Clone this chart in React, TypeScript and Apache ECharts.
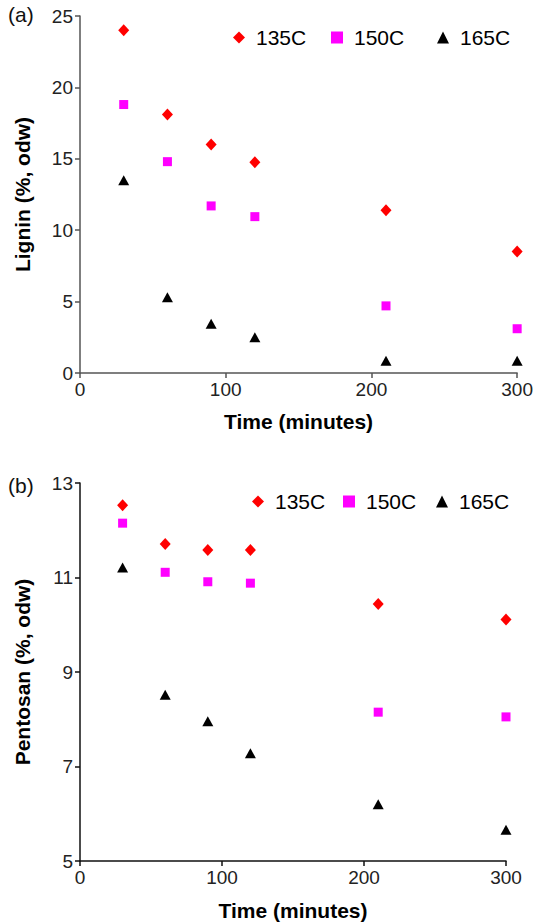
import React, { useEffect, useRef } from "react";
import * as echarts from "echarts";

const times = [30, 60, 90, 120, 210, 300];
const seriesNames = ["135C", "150C", "165C"];
const lignin135 = [24.0, 18.1, 16.0, 14.75, 11.4, 8.5];
const lignin150 = [18.8, 14.8, 11.7, 10.95, 4.7, 3.1];
const lignin165 = [13.5, 5.3, 3.45, 2.5, 0.85, 0.85];
const pentosan135 = [12.53, 11.71, 11.58, 11.58, 10.44, 10.11];
const pentosan150 = [12.15, 11.11, 10.91, 10.88, 8.15, 8.05];
const pentosan165 = [11.21, 8.52, 7.96, 7.28, 6.2, 5.66];
const xTicks = { min: 0, max: 300, interval: 100 };
const ligninTicks = { min: 0, max: 25, interval: 5 };
const pentosanTicks = { min: 5, max: 13, interval: 2 };

const FONT = "Liberation Sans, Arial, sans-serif";
const colors = ["#FF0000", "#FF00FF", "#000000"];
const symbols = ["diamond", "rect", "triangle"];
const symbolSizes: any[] = [[11, 12], 9, [11, 10]];

const pair = (vals: number[]) => times.map((t, i) => [t, vals[i]]);

export default function App() {
  const ref = useRef<HTMLDivElement>(null);
  useEffect(() => {
    if (!ref.current) return;
    const chart = echarts.init(ref.current, null, { renderer: "svg" });
    const axisCommon = (color: string) => ({
      axisLine: { show: true, onZero: false, lineStyle: { color, width: 1.5 } },
      axisTick: { show: true, inside: false, length: 5, lineStyle: { color, width: 1.5 } },
      splitLine: { show: false },
      axisLabel: { color: "#222", fontSize: 19, fontFamily: FONT, margin: 7 },
      nameTextStyle: { color: "#000", fontSize: 21, fontWeight: "bold", fontFamily: FONT },
      nameLocation: "middle" as const,
    });
    const legendItem = (i: number, left: number, top: number) => ({
      left,
      top,
      itemWidth: 12,
      itemHeight: 12,
      selectedMode: false,
      textStyle: { fontSize: 21, color: "#000", fontFamily: FONT, padding: [0, 0, 0, 6] },
      data: [{ name: seriesNames[i], icon: symbols[i], itemStyle: { color: colors[i], opacity: 1 } }],
    });
    const groups = [
      [lignin135, lignin150, lignin165],
      [pentosan135, pentosan150, pentosan165],
    ];
    const series: any[] = [];
    groups.forEach((g, gi) => {
      g.forEach((vals, si) => {
        series.push({
          type: "scatter",
          name: seriesNames[si],
          xAxisIndex: gi,
          yAxisIndex: gi,
          symbol: symbols[si],
          symbolSize: symbolSizes[si],
          itemStyle: { color: colors[si], opacity: 1 },
          data: pair(vals),
        });
      });
    });
    chart.setOption({
      animation: false,
      backgroundColor: "#fff",
      textStyle: { fontFamily: FONT },
      grid: [
        { left: 80, right: 18, top: 16, height: 357 },
        { left: 80, right: 30, top: 483, height: 378 },
      ],
      legend: [
        legendItem(0, 228, 22),
        legendItem(1, 326, 22),
        legendItem(2, 432, 22),
        legendItem(0, 247, 486),
        legendItem(1, 338, 486),
        legendItem(2, 431, 486),
      ],
      xAxis: [
        { type: "value", gridIndex: 0, ...xTicks, ...axisCommon("#555"), name: "Time (minutes)", nameGap: 38 },
        { type: "value", gridIndex: 1, ...xTicks, ...axisCommon("#111"), name: "Time (minutes)", nameGap: 39 },
      ],
      yAxis: [
        { type: "value", gridIndex: 0, ...ligninTicks, ...axisCommon("#555"), name: "Lignin (%, odw)", nameGap: 47 },
        { type: "value", gridIndex: 1, ...pentosanTicks, ...axisCommon("#111"), name: "Pentosan (%, odw)", nameGap: 47 },
      ],
      graphic: [
        { type: "text", left: 8, top: 4, style: { text: "(a)", fill: "#111", fontSize: 21, fontFamily: FONT } },
        { type: "text", left: 8, top: 475, style: { text: "(b)", fill: "#111", fontSize: 21, fontFamily: FONT } },
      ],
      series,
    });
    return () => chart.dispose();
  }, []);
  return <div ref={ref} style={{ position: "absolute", left: 0, top: 0, width: 536, height: 924 }} />;
}
